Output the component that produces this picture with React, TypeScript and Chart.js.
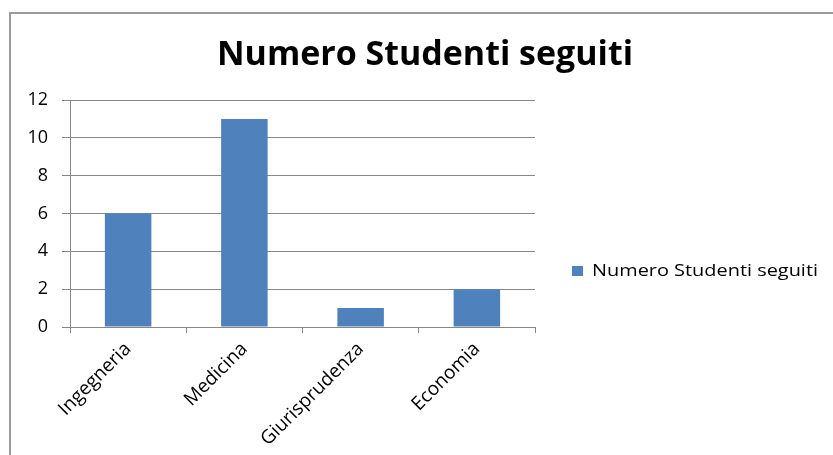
import React, { useEffect, useRef } from "react";
import { Chart, registerables } from "chart.js";

Chart.register(...registerables);

const categories = ["Ingegneria", "Medicina", "Giurisprudenza", "Economia"];
const values = [6, 11, 1, 2];
const seriesName = "Numero Studenti seguiti";
const chartTitle = "Numero Studenti seguiti";
const yMin = 0;
const yMax = 12;
const yStep = 2;

const FONT = "'Open Sans', sans-serif";
const BAR = "#4F81BD";
const GRID = "#878787";

function fitText(ctx: CanvasRenderingContext2D, text: string, x: number, y: number, w: number, align: "left" | "center") {
  const m = ctx.measureText(text).width;
  const s = w / m;
  ctx.save();
  const startX = align === "center" ? x - w / 2 : x;
  ctx.translate(startX, y);
  ctx.scale(s, 1);
  ctx.textAlign = "left";
  ctx.fillText(text, 0, 0);
  ctx.restore();
}

const decor = {
  id: "decor",
  beforeDraw(chart: any) {
    const ctx = chart.ctx as CanvasRenderingContext2D;
    ctx.save();
    ctx.fillStyle = "#ffffff";
    ctx.fillRect(0, 0, chart.width, chart.height);
    ctx.fillStyle = "#9a9a9a";
    ctx.fillRect(9, 12, 2, chart.height - 12);
    ctx.fillRect(9, 12, chart.width - 9, 2);
    ctx.restore();
  },
  afterDraw(chart: any) {
    const ctx = chart.ctx as CanvasRenderingContext2D;
    ctx.save();
    ctx.fillStyle = "#000000";
    ctx.textBaseline = "alphabetic";
    ctx.font = `bold 34px ${FONT}`;
    fitText(ctx, chartTitle, 425, 65, 416, "center");
    // legend
    ctx.fillStyle = BAR;
    ctx.fillRect(572, 266, 11, 10);
    ctx.fillStyle = "#000000";
    ctx.font = `17px ${FONT}`;
    fitText(ctx, seriesName, 592, 276, 226, "left");
    ctx.restore();
  },
};

export default function App() {
  const ref = useRef<HTMLCanvasElement | null>(null);
  useEffect(() => {
    if (!ref.current) return;
    const chart = new Chart(ref.current, {
      type: "bar",
      data: {
        labels: categories,
        datasets: [
          {
            label: seriesName,
            data: values,
            backgroundColor: BAR,
            borderWidth: 0,
            barPercentage: 0.4,
            categoryPercentage: 1,
          },
        ],
      },
      options: {
        animation: false,
        responsive: false,
        maintainAspectRatio: false,
        devicePixelRatio: 1,
        layout: { padding: { left: 10, right: 298, top: 100, bottom: 0 } },
        plugins: {
          legend: { display: false },
          title: { display: false },
          tooltip: { enabled: false },
        },
        scales: {
          x: {
            offset: true,
            grid: {
              offset: true,
              drawOnChartArea: false,
              drawTicks: true,
              tickLength: 6,
              color: GRID,
            },
            border: { color: GRID, width: 1 },
            ticks: {
              maxRotation: 45,
              minRotation: 45,
              color: "#000",
              padding: 5,
              font: { family: FONT, size: 19 },
            },
            afterFit: (s: any) => {
              s.height = 128;
            },
          },
          y: {
            min: yMin,
            max: yMax,
            ticks: {
              stepSize: yStep,
              color: "#000",
              padding: 14,
              font: { family: FONT, size: 18 },
            },
            grid: { color: GRID, tickLength: 8 },
            border: { color: GRID, width: 1 },
            afterFit: (s: any) => {
              s.width = 60;
            },
          },
        },
      } as any,
      plugins: [decor],
    });
    return () => chart.destroy();
  }, []);
  return (
    <div style={{ position: "fixed", left: 0, top: 0, width: 833, height: 455, background: "#fff" }}>
      <canvas ref={ref} width={833} height={455} style={{ width: 833, height: 455, display: "block" }} />
    </div>
  );
}
